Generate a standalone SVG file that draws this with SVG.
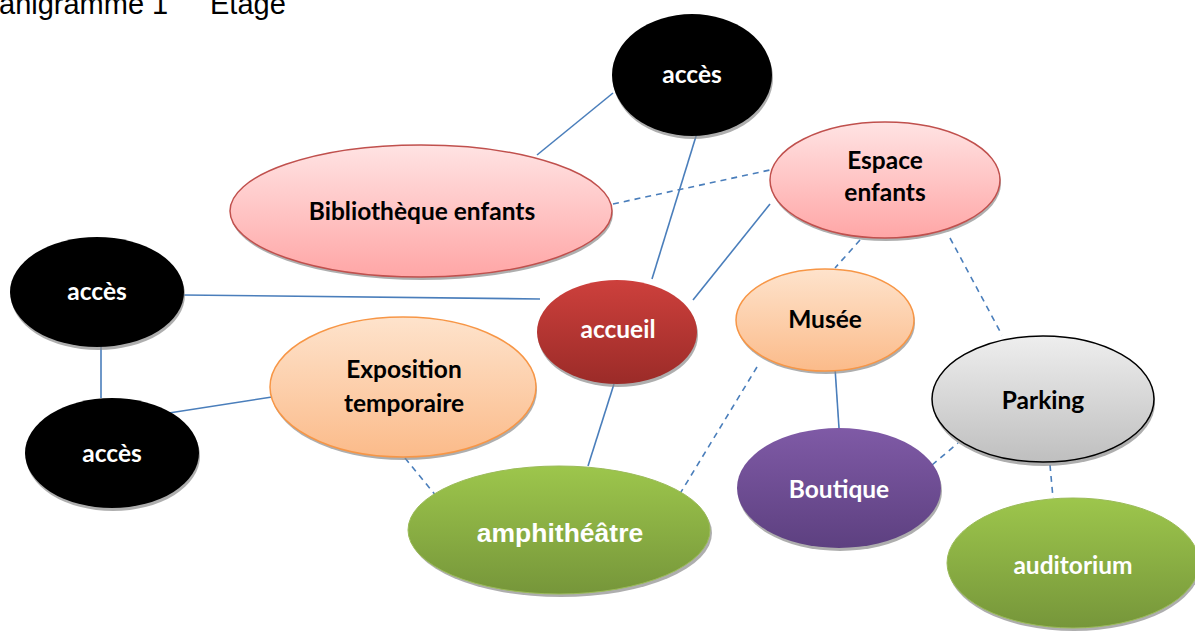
<svg xmlns="http://www.w3.org/2000/svg" width="1195" height="633" viewBox="0 0 1195 633">
<style>
.t{font-family:Lato,"Open Sans","Liberation Sans",sans-serif;font-weight:bold;font-size:24.5px;text-anchor:middle}
.w{fill:#ffffff}
.k{fill:#000000}
.c line{stroke:#4a7ebb;stroke-width:1.6}
.c .d{stroke-dasharray:6 5}
.sh{fill:#8c8c8c;opacity:0.7}
</style>
<defs>
<linearGradient id="gPink" x1="0" y1="0" x2="0" y2="1"><stop offset="0" stop-color="#ffe3e3"/><stop offset="1" stop-color="#ffa6a6"/></linearGradient>
<linearGradient id="gRed" x1="0" y1="0" x2="0" y2="1"><stop offset="0" stop-color="#cd403c"/><stop offset="1" stop-color="#9b2b28"/></linearGradient>
<linearGradient id="gOr" x1="0" y1="0" x2="0" y2="1"><stop offset="0" stop-color="#fee3cc"/><stop offset="1" stop-color="#fbbb8a"/></linearGradient>
<linearGradient id="gGr" x1="0" y1="0" x2="0" y2="1"><stop offset="0" stop-color="#9dc64c"/><stop offset="1" stop-color="#76963a"/></linearGradient>
<linearGradient id="gPu" x1="0" y1="0" x2="0" y2="1"><stop offset="0" stop-color="#7f5aa6"/><stop offset="1" stop-color="#5d4080"/></linearGradient>
<linearGradient id="gGy" x1="0" y1="0" x2="0" y2="1"><stop offset="0" stop-color="#eeeeee"/><stop offset="1" stop-color="#bfbfbf"/></linearGradient>
</defs>
<rect width="1195" height="633" fill="#ffffff"/>
<text x="-1" y="14" font-family="'Liberation Sans',Arial,sans-serif" font-size="29" fill="#000">anigramme 1</text>
<text x="210" y="14" font-family="'Liberation Sans',Arial,sans-serif" font-size="29" fill="#000">Etage</text>

<g class="c" id="connectors">
<line x1="613" y1="93" x2="537" y2="155"/>
<line x1="697" y1="133" x2="652" y2="279"/>
<line x1="183" y1="295" x2="540" y2="299"/>
<line x1="770" y1="204" x2="693" y2="300"/>
<line x1="101" y1="346" x2="101" y2="398"/>
<line x1="169" y1="413" x2="272" y2="397"/>
<line x1="614" y1="384" x2="588" y2="466"/>
<line x1="835" y1="368" x2="839" y2="428"/>
<line class="d" x1="613" y1="204" x2="770" y2="170"/>
<line class="d" x1="860" y1="240" x2="835" y2="268"/>
<line class="d" x1="950" y1="238" x2="1002" y2="335"/>
<line class="d" x1="405" y1="458" x2="437" y2="497"/>
<line class="d" x1="757" y1="367" x2="678" y2="497"/>
<line class="d" x1="932" y1="465" x2="958" y2="443"/>
<line class="d" x1="1050" y1="465" x2="1053" y2="498"/>
</g>

<g id="acces-top">
<ellipse class="sh" cx="693" cy="78" rx="80" ry="61"/>
<ellipse cx="692" cy="75" rx="80" ry="61" fill="#000"/>
<text class="t w" x="692" y="83">accès</text>
</g>
<g id="bibliotheque">
<ellipse class="sh" cx="422" cy="214" rx="191" ry="66"/>
<ellipse cx="421" cy="211" rx="191" ry="66" fill="url(#gPink)" stroke="#c0504d" stroke-width="1.5"/>
<text class="t k" x="422" y="220">Bibliothèque enfants</text>
</g>
<g id="espace">
<ellipse class="sh" cx="886" cy="183" rx="115" ry="58"/>
<ellipse cx="885" cy="180" rx="115" ry="58" fill="url(#gPink)" stroke="#c0504d" stroke-width="1.5"/>
<text class="t k" x="885" y="169">Espace</text>
<text class="t k" x="885" y="201">enfants</text>
</g>
<g id="acces-left1">
<ellipse class="sh" cx="98" cy="295" rx="87" ry="55"/>
<ellipse cx="97" cy="292" rx="87" ry="55" fill="#000"/>
<text class="t w" x="97" y="300">accès</text>
</g>
<g id="acces-left2">
<ellipse class="sh" cx="113" cy="456" rx="87" ry="55"/>
<ellipse cx="112" cy="453" rx="87" ry="55" fill="#000"/>
<text class="t w" x="112" y="462">accès</text>
</g>
<g id="accueil">
<ellipse class="sh" cx="618" cy="335" rx="80" ry="52"/>
<ellipse cx="617" cy="332" rx="80" ry="52" fill="url(#gRed)"/>
<text class="t w" x="618" y="338">accueil</text>
</g>
<g id="musee">
<ellipse class="sh" cx="826" cy="323" rx="89" ry="51"/>
<ellipse cx="825" cy="320" rx="89" ry="51" fill="url(#gOr)" stroke="#f79646" stroke-width="1.5"/>
<text class="t k" x="825" y="328">Musée</text>
</g>
<g id="exposition">
<ellipse class="sh" cx="404" cy="390" rx="133" ry="70"/>
<ellipse cx="403" cy="387" rx="133" ry="70" fill="url(#gOr)" stroke="#f79646" stroke-width="1.5"/>
<text class="t k" x="404" y="378">Exposition</text>
<text class="t k" x="404" y="412">temporaire</text>
</g>
<g id="amphitheatre">
<ellipse class="sh" cx="561" cy="533" rx="151" ry="64"/>
<ellipse cx="559" cy="530" rx="151" ry="64" fill="url(#gGr)" stroke="#9bbb59" stroke-width="1"/>
<text x="560" y="542" font-family="'Liberation Sans',Arial,sans-serif" font-weight="bold" font-size="26.5" fill="#fff" text-anchor="middle">amphithéâtre</text>
</g>
<g id="boutique">
<ellipse class="sh" cx="840" cy="491" rx="102" ry="60"/>
<ellipse cx="839" cy="488" rx="102" ry="60" fill="url(#gPu)"/>
<text class="t w" x="839" y="498">Boutique</text>
</g>
<g id="parking">
<ellipse class="sh" cx="1044" cy="403" rx="111" ry="63"/>
<ellipse cx="1043" cy="399" rx="111" ry="63" fill="url(#gGy)" stroke="#000" stroke-width="1.5"/>
<text class="t k" x="1043" y="409">Parking</text>
</g>
<g id="auditorium">
<ellipse class="sh" cx="1074" cy="566" rx="126" ry="65"/>
<ellipse cx="1073" cy="563" rx="126" ry="65" fill="url(#gGr)" stroke="#9bbb59" stroke-width="1"/>
<text class="t w" x="1073" y="574">auditorium</text>
</g>
</svg>
